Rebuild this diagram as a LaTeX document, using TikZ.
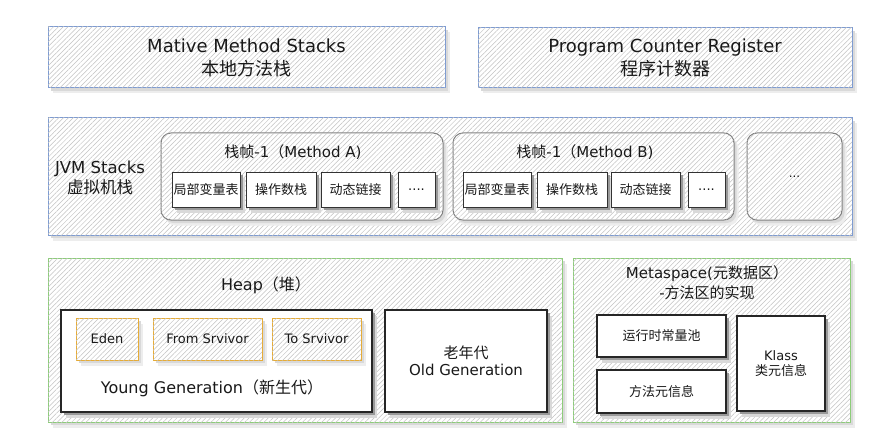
\documentclass[tikz,border=0pt]{standalone}
\usepackage{fontspec}
\setmainfont{DejaVu Sans}
\newfontfamily\cjk{Noto Sans CJK SC}
\usetikzlibrary{patterns.meta}
\newcommand\zhs[1]{{\cjk #1}}
\definecolor{bluebd}{RGB}{125,155,210}
\definecolor{greenbd}{RGB}{140,205,120}
\definecolor{orangebd}{RGB}{232,172,52}
\definecolor{txt}{RGB}{25,25,25}
% #1 node style, #2 shadow options, #3 name, #4 cx, #5 cy, #6 w, #7 h, #8 text
\newcommand\bx[8]{%
  \fill[#2, sha] ({#4-#6/2+4.5},{#5-#7/2+5.5}) rectangle ++(#6,#7);
  \fill[#2, shb] ({#4-#6/2+2.5},{#5-#7/2+3}) rectangle ++(#6,#7);
  \node[#1, minimum width=#6, minimum height=#7] (#3) at (#4,#5) {#8};
}
\begin{document}
\begin{tikzpicture}[x=1pt,y=-1pt,
  sha/.style={fill=black!7},
  shb/.style={fill=black!15},
  dark/.style={sha/.style={fill=black!15}, shb/.style={fill=black!40}},
  hatch/.style={postaction={draw=none, pattern={Lines[angle=45,distance=3.4pt,line width=0.5pt]},pattern color=black!24}},
  base/.style={inner sep=0pt, align=center, text=txt},
  bluebox/.style={base, fill=white, hatch, draw=bluebd, line width=1pt},
  greenbox/.style={base, fill=white, hatch, draw=greenbd, line width=1pt},
  orangebox/.style={base, fill=white, hatch, draw=orangebd, line width=1pt, font=\fontsize{13}{15}\selectfont},
  framebox/.style={base, fill=white, hatch, draw=black!50, line width=1pt, rounded corners=10pt},
  whitebox/.style={base, fill=white, draw=black!85, line width=1.2pt},
  cell/.style={base, fill=white, draw=black!80, line width=1pt, font=\fontsize{13}{15}\selectfont},
  lab/.style={base},
]
\useasboundingbox (0,0) rectangle (883,441);

% top row
\bx{bluebox, font=\fontsize{18}{23}\selectfont}{}{native}{246.5}{57.5}{397}{61}{Mative Method Stacks\\\zhs{本地方法栈}}
\bx{bluebox, font=\fontsize{18}{23}\selectfont}{}{pc}{665}{58}{374}{60}{Program Counter Register\\\zhs{程序计数器}}

% JVM stacks
\bx{bluebox}{}{jvm}{450}{176.5}{804}{117}{}
\node[lab, font=\fontsize{16.5}{20}\selectfont] (jvmlab) at (100,178) {JVM Stacks\\\zhs{虚拟机栈}};

\bx{framebox}{rounded corners=10pt}{fa}{302}{176.5}{282}{87}{}
\node[lab, font=\fontsize{15}{18}\selectfont] (fat) at (293,152) {\zhs{栈帧}-1\zhs{（}Method A)};
\bx{cell}{dark}{a1}{206}{189.5}{68}{35}{\zhs{局部变量表}}
\bx{cell}{dark}{a2}{281}{189.5}{70}{35}{\zhs{操作数栈}}
\bx{cell}{dark}{a3}{355.5}{189.5}{69}{35}{\zhs{动态链接}}
\bx{cell}{dark}{a4}{416.5}{189.5}{37}{35}{....}

\bx{framebox}{rounded corners=10pt}{fb}{593.5}{176.5}{281}{87}{}
\node[lab, font=\fontsize{15}{18}\selectfont] (fbt) at (585,152) {\zhs{栈帧}-1\zhs{（}Method B)};
\bx{cell}{dark}{b1}{497}{189.5}{68}{35}{\zhs{局部变量表}}
\bx{cell}{dark}{b2}{572}{189.5}{70}{35}{\zhs{操作数栈}}
\bx{cell}{dark}{b3}{645.5}{189.5}{69}{35}{\zhs{动态链接}}
\bx{cell}{dark}{b4}{706.5}{189.5}{37}{35}{....}

\bx{framebox, font=\fontsize{12}{14}\selectfont}{rounded corners=10pt}{more}{794.5}{176.5}{95}{87}{...}

% Heap
\bx{greenbox}{}{heap}{305}{340}{514}{164}{}
\node[lab, font=\fontsize{16}{19}\selectfont] (heapt) at (266,285) {Heap\zhs{（堆）}};
\bx{whitebox}{dark}{young}{216.5}{361}{311}{102}{}
\bx{orangebox}{}{eden}{107}{339}{62}{42}{Eden}
\bx{orangebox}{}{from}{207.5}{339}{109}{42}{From Srvivor}
\bx{orangebox}{}{to}{316.5}{339}{89}{42}{To Srvivor}
\node[lab, font=\fontsize{16}{19}\selectfont] (youngt) at (212,388) {Young Generation\zhs{（新生代）}};
\bx{whitebox, font=\fontsize{15}{17}\selectfont}{dark}{old}{466}{361}{162}{102}{\zhs{老年代}\\Old Generation}

% Metaspace
\bx{greenbox}{}{meta}{711.5}{340}{277}{164}{}
\node[lab, font=\fontsize{15}{20}\selectfont] (metat) at (707,283) {Metaspace(\zhs{元数据区）}\\-\zhs{方法区的实现}};
\bx{whitebox, font=\fontsize{13}{15}\selectfont}{dark}{rcp}{661.5}{336}{129}{42}{\zhs{运行时常量池}}
\bx{whitebox, font=\fontsize{13}{15}\selectfont}{dark}{mmi}{661.5}{391.5}{129}{43}{\zhs{方法元信息}}
\bx{whitebox, font=\fontsize{13}{15}\selectfont}{dark}{klass}{781}{363.5}{88}{95}{Klass\\\zhs{类元信息}}
\end{tikzpicture}
\end{document}
